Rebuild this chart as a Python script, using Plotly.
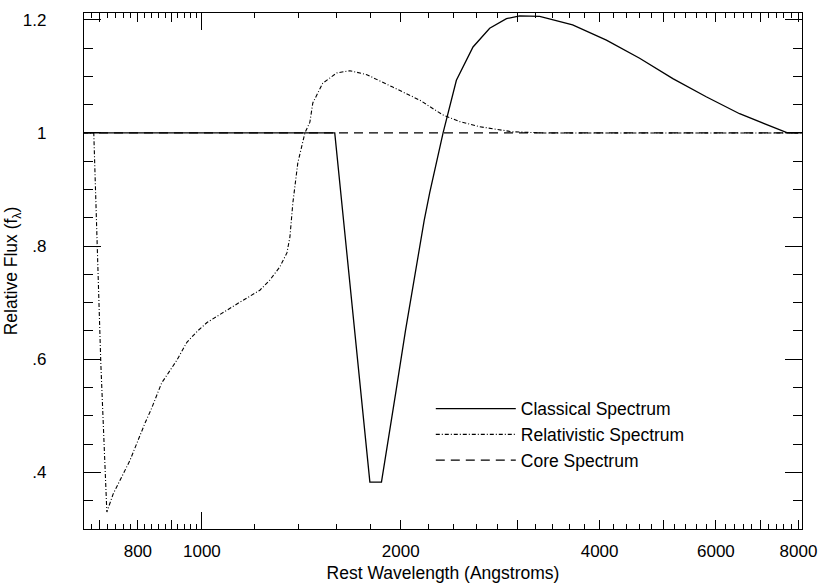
import math
import plotly.graph_objects as go

# ---- data ----
classical_wl = [663, 1589, 1796, 1870, 1968, 2033, 2170, 2213, 2318, 2428, 2573, 2727,
                2891, 3028, 3246, 3641, 4096, 4599, 5164, 5800, 6516, 7308, 7700, 8100]
classical_flux = [1.0, 1.0, 0.383, 0.383, 0.545, 0.650, 0.845, 0.895, 1.0, 1.093, 1.152, 1.185,
                  1.202, 1.207, 1.206, 1.191, 1.164, 1.132, 1.096, 1.064, 1.034, 1.011, 1.0, 1.0]

rel_wl = [663, 686, 703, 718, 734, 778, 820, 839, 869, 916, 949, 987, 1018, 1091, 1142,
          1224, 1267, 1312, 1345, 1359, 1373, 1397, 1432, 1457, 1472, 1524, 1600, 1675,
          1777, 1945, 2137, 2315, 2457, 2634, 2954, 3300, 4000, 8100]
rel_flux = [1.0, 1.0, 0.593, 0.330, 0.362, 0.421, 0.487, 0.513, 0.558, 0.598, 0.630, 0.651,
            0.665, 0.687, 0.701, 0.722, 0.740, 0.763, 0.788, 0.816, 0.876, 0.947, 1.0, 1.019,
            1.053, 1.088, 1.106, 1.110, 1.103, 1.081, 1.058, 1.032, 1.020, 1.011, 1.002,
            1.0, 1.0, 1.0]

core_wl = [663, 8100]
core_flux = [1.0, 1.0]

x_major_vals = [700, 800, 900, 2000, 3000, 4000, 5000, 6000, 7000, 8000]
x_major_text = ["", "800", "", "2000", "", "4000", "", "6000", "", "8000"]
x_decade_vals = [1000]
x_decade_text = ["1000"]
x_minor_vals = [v for v in range(680, 1000, 20) if v % 100 != 0] + \
               [v for v in range(1200, 8001, 200) if v % 1000 != 0]

y_major_vals = [0.4, 0.6, 0.8, 1.0, 1.2]
y_major_text = [".4", ".6", ".8", "1", "1.2"]

x_range = [math.log10(663), math.log10(8100)]
y_range = [0.3, 1.212]

FONT = "Liberation Sans, Arial, Helvetica, sans-serif"
TICK_FONT = dict(family=FONT, size=17, color="black")
TITLE_FONT = dict(family=FONT, size=17.5, color="black")

fig = go.Figure()
fig.add_trace(go.Scatter(x=core_wl, y=core_flux, mode="lines", name="Core Spectrum",
                         legendrank=3,
                         line=dict(color="black", width=1.2, dash="9px,6px")))
fig.add_trace(go.Scatter(x=rel_wl, y=rel_flux, mode="lines", name="Relativistic Spectrum",
                         legendrank=2,
                         line=dict(color="black", width=1.1, dash="4px,2px,1px,2px")))
fig.add_trace(go.Scatter(x=classical_wl, y=classical_flux, mode="lines",
                         name="Classical Spectrum", legendrank=1,
                         line=dict(color="black", width=1.3)))
# empty helper trace so the overlaying axis (long decade tick) is drawn
fig.add_trace(go.Scatter(x=[], y=[], xaxis="x2", yaxis="y", showlegend=False,
                         hoverinfo="skip"))

axis_common = dict(showgrid=False, zeroline=False, ticks="inside", automargin=False,
                   tickcolor="black", tickwidth=1, tickfont=TICK_FONT)

fig.update_layout(
    template="none",
    width=820, height=583,
    margin=dict(l=84, r=18, t=13, b=54, autoexpand=False),
    paper_bgcolor="white", plot_bgcolor="white",
    font=dict(family=FONT, size=16, color="black"),
    showlegend=True,
    legend=dict(x=0.483, y=0.268, xanchor="left", yanchor="top",
                bgcolor="rgba(0,0,0,0)", borderwidth=0,
                font=dict(family=FONT, size=17.5, color="black"),
                itemwidth=80, tracegroupgap=4),
    xaxis=dict(type="log", range=x_range, tickmode="array",
               tickvals=x_major_vals, ticktext=x_major_text, ticklen=9,
               showline=True, linecolor="black", linewidth=1.3, mirror="ticks",
               ticklabelstandoff=6,
               minor=dict(tickmode="array", tickvals=x_minor_vals, ticks="inside",
                          ticklen=5, tickcolor="black"),
               title=dict(text="Rest Wavelength (Angstroms)", standoff=8,
                          font=TITLE_FONT),
               **axis_common),
    xaxis2=dict(type="log", range=x_range, overlaying="x", anchor="y", side="bottom",
                tickmode="array", tickvals=x_decade_vals, ticktext=x_decade_text,
                ticklen=17, mirror="ticks", showline=True, linecolor="black",
                linewidth=1.3, ticklabelstandoff=6,
                **axis_common),
    yaxis=dict(range=y_range, tickmode="array", tickvals=y_major_vals,
               ticktext=y_major_text, ticklen=17,
               showline=True, linecolor="black", linewidth=1.3, mirror="ticks",
               ticklabelstandoff=33,
               minor=dict(dtick=0.05, tick0=0, ticks="inside", ticklen=9,
                          tickcolor="black"),
               title=dict(text="Relative Flux (f<sub>λ</sub>)", standoff=0,
                          font=TITLE_FONT),
               **axis_common),
)

fig.write_html("out.html")
